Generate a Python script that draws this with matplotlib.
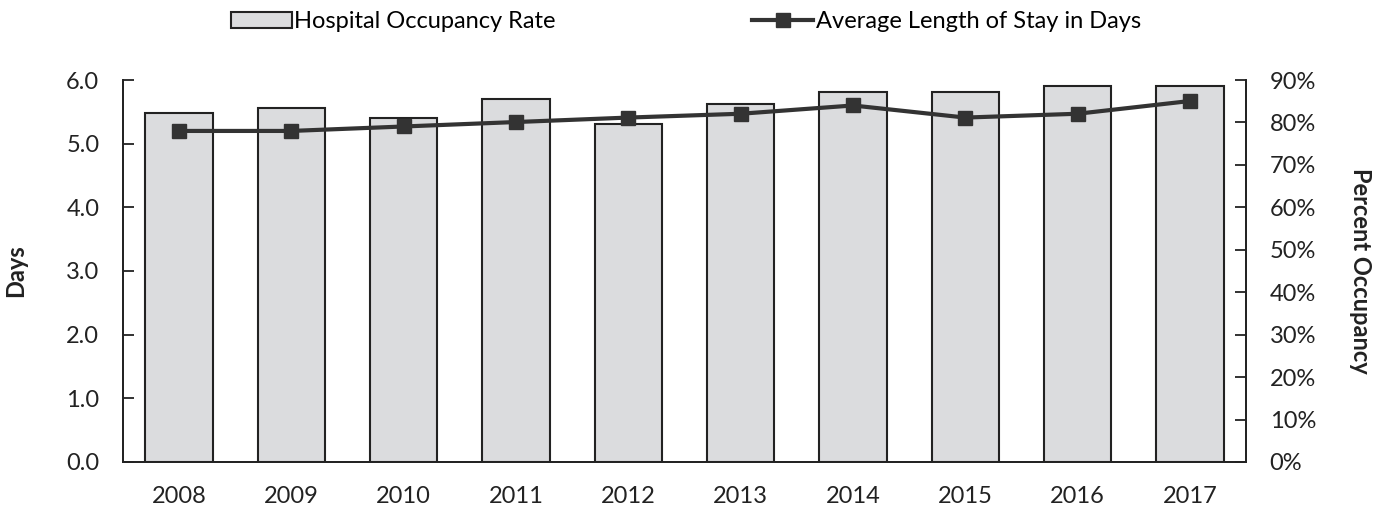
import matplotlib.pyplot as plt
from matplotlib.ticker import FuncFormatter

plt.rcParams["font.family"] = ["Lato", "DejaVu Sans"]

# data
years = ["2008", "2009", "2010", "2011", "2012", "2013", "2014", "2015", "2016", "2017"]
occupancy_pct = [82.3, 83.3, 81.1, 85.6, 79.6, 84.3, 87.2, 87.2, 88.7, 88.7]
avg_stay_days = [5.2, 5.2, 5.27, 5.34, 5.41, 5.47, 5.6, 5.41, 5.47, 5.67]

bar_color = "#DBDCDE"
line_color = "#333333"
ink = "#222222"

fig = plt.figure(figsize=(13.88, 5.08), dpi=100)
ax = fig.add_axes([0.0886, 0.0906, 0.8091, 0.7519])
ax2 = ax.twinx()

x = list(range(len(years)))

# bars on the right (percent) axis
bars = ax2.bar(x, occupancy_pct, width=0.6, color=bar_color, edgecolor=ink,
               linewidth=1.5, label="Hospital Occupancy Rate")
ax2.set_ylim(0, 90)
ax2.set_yticks(range(0, 91, 10))
ax2.yaxis.set_major_formatter(FuncFormatter(lambda v, p: f"{v:.0f}%"))
ax2.set_ylabel("Percent Occupancy", fontsize=17, fontweight="bold", rotation=270,
               labelpad=40, color=ink)

# line on the left (days) axis, drawn above the bars
line, = ax.plot(x, avg_stay_days, color=line_color, linewidth=3, marker="s",
                markersize=9.5, label="Average Length of Stay in Days")
ax.set_ylim(0, 6)
ax.set_yticks([0, 1, 2, 3, 4, 5, 6])
ax.yaxis.set_major_formatter(FuncFormatter(lambda v, p: f"{v:.1f}"))
ax.set_ylabel("Days", fontsize=17, fontweight="bold", labelpad=28, color=ink)
ax.set_zorder(ax2.get_zorder() + 1)
ax.patch.set_visible(False)

ax.set_xlim(-0.5, len(years) - 0.5)
ax.set_xticks(x)
ax.set_xticklabels(years)

for a in (ax, ax2):
    a.spines["top"].set_visible(False)
    for s in a.spines.values():
        s.set_linewidth(1.3)
        s.set_color(ink)
    a.tick_params(axis="y", direction="in", length=8, width=1.3, labelsize=17,
                  colors=ink, pad=17)
    a.tick_params(axis="x", length=0, labelsize=17, colors=ink, pad=17)

fig.legend(handles=[bars, line], loc="upper center", bbox_to_anchor=(0.494, 1.02),
           ncol=2, frameon=False, fontsize=17, handlelength=2.6, handletextpad=0.1,
           columnspacing=8.3)

fig.savefig("out.png", dpi=100)
